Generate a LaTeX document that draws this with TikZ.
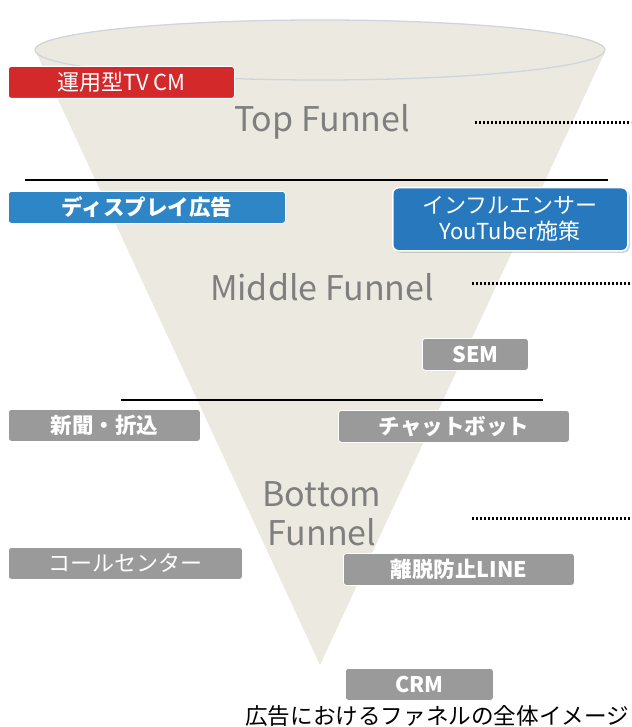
\documentclass[tikz,border=0pt]{standalone}
\usepackage{fontspec}
\setmainfont{Noto Sans CJK JP}
\usetikzlibrary{shadows,shapes.geometric}
\definecolor{funnelfill}{HTML}{ECEAE0}
\definecolor{rimcol}{HTML}{D0D4DC}
\definecolor{redbox}{HTML}{D3292B}
\definecolor{bluebox}{HTML}{2E86C6}
\definecolor{bluebox2}{HTML}{2778BC}
\definecolor{graybox}{HTML}{9A9A9A}
\definecolor{labelgray}{HTML}{7F7F7F}
\tikzset{
  box/.style={rounded corners=3pt, draw=white, line width=0.8pt, text=white, font=\fontsize{22}{24}\selectfont, inner sep=0pt, anchor=north west},
  boldbox/.style={box, font=\fontsize{21.5}{24}\selectfont\bfseries},
  funnellabel/.style={text=labelgray, font=\fontsize{34}{40}\selectfont, align=center},
  dots/.style={line width=3pt, dash pattern=on 2.4pt off 1.6pt},
  sep/.style={line width=1.6pt, black}
}
\begin{document}
\begin{tikzpicture}[x=1pt,y=-1pt]
\useasboundingbox (0,0) rectangle (631,727);
% funnel
\coordinate (apex) at (320,665);
\fill[funnelfill] (36,52) -- (apex) -- (605,52) -- cycle;
\node[ellipse, draw=rimcol, fill=funnelfill, line width=1.3pt, minimum width=570pt, minimum height=60pt, inner sep=0pt] (rim) at (320,50) {};
% separators
\coordinate (s1a) at (25,180); \coordinate (s1b) at (608,180);
\draw[sep] (s1a) -- (s1b);
\coordinate (s2a) at (121,400); \coordinate (s2b) at (543,400);
\draw[sep] (s2a) -- (s2b);
% labels
\node[funnellabel] (top) at (322,122) {Top Funnel};
\node[funnellabel] (mid) at (322,287) {Middle Funnel};
\node[funnellabel, font=\fontsize{34}{39}\selectfont] (bot) at (322,514) {Bottom\\Funnel};
% dotted lines
\coordinate (d1a) at (475,123); \coordinate (d1b) at (631,123);
\draw[dots] (d1a) -- (d1b);
\coordinate (d2a) at (472,283); \coordinate (d2b) at (631,283);
\draw[dots] (d2a) -- (d2b);
\coordinate (d3a) at (472,518); \coordinate (d3b) at (631,518);
\draw[dots] (d3a) -- (d3b);
% boxes
\node[box, fill=redbox, minimum width=226pt, minimum height=32pt] (tv) at (8,66) {運用型TV CM};
\node[boldbox, fill=bluebox, minimum width=277pt, minimum height=32pt] (disp) at (8,191) {ディスプレイ広告};
\node[box, fill=bluebox2, minimum width=235pt, minimum height=63pt, rounded corners=6pt, line width=1.5pt, align=center, drop shadow={shadow xshift=2pt, shadow yshift=-2pt, opacity=0.35}, font=\fontsize{22}{26}\selectfont] (infl) at (392,187) {インフルエンサー\\YouTuber施策};
\node[boldbox, fill=graybox, minimum width=106pt, minimum height=32pt] (sem) at (422,338) {SEM};
\node[boldbox, fill=graybox, minimum width=192pt, minimum height=32pt] (news) at (8,409) {新聞・折込};
\node[boldbox, fill=graybox, minimum width=231pt, minimum height=32pt] (chat) at (338,410) {チャットボット};
\node[box, fill=graybox, minimum width=234pt, minimum height=32pt] (call) at (8,547) {コールセンター};
\node[boldbox, fill=graybox, minimum width=231pt, minimum height=32pt] (line) at (343,553) {離脱防止LINE};
\node[boldbox, fill=graybox, minimum width=148pt, minimum height=32pt] (crm) at (345,668) {CRM};
% caption
\node[anchor=west, font=\fontsize{22.6}{25}\selectfont, inner sep=0pt] (cap) at (245,716) {広告におけるファネルの全体イメージ};
\end{tikzpicture}
\end{document}
